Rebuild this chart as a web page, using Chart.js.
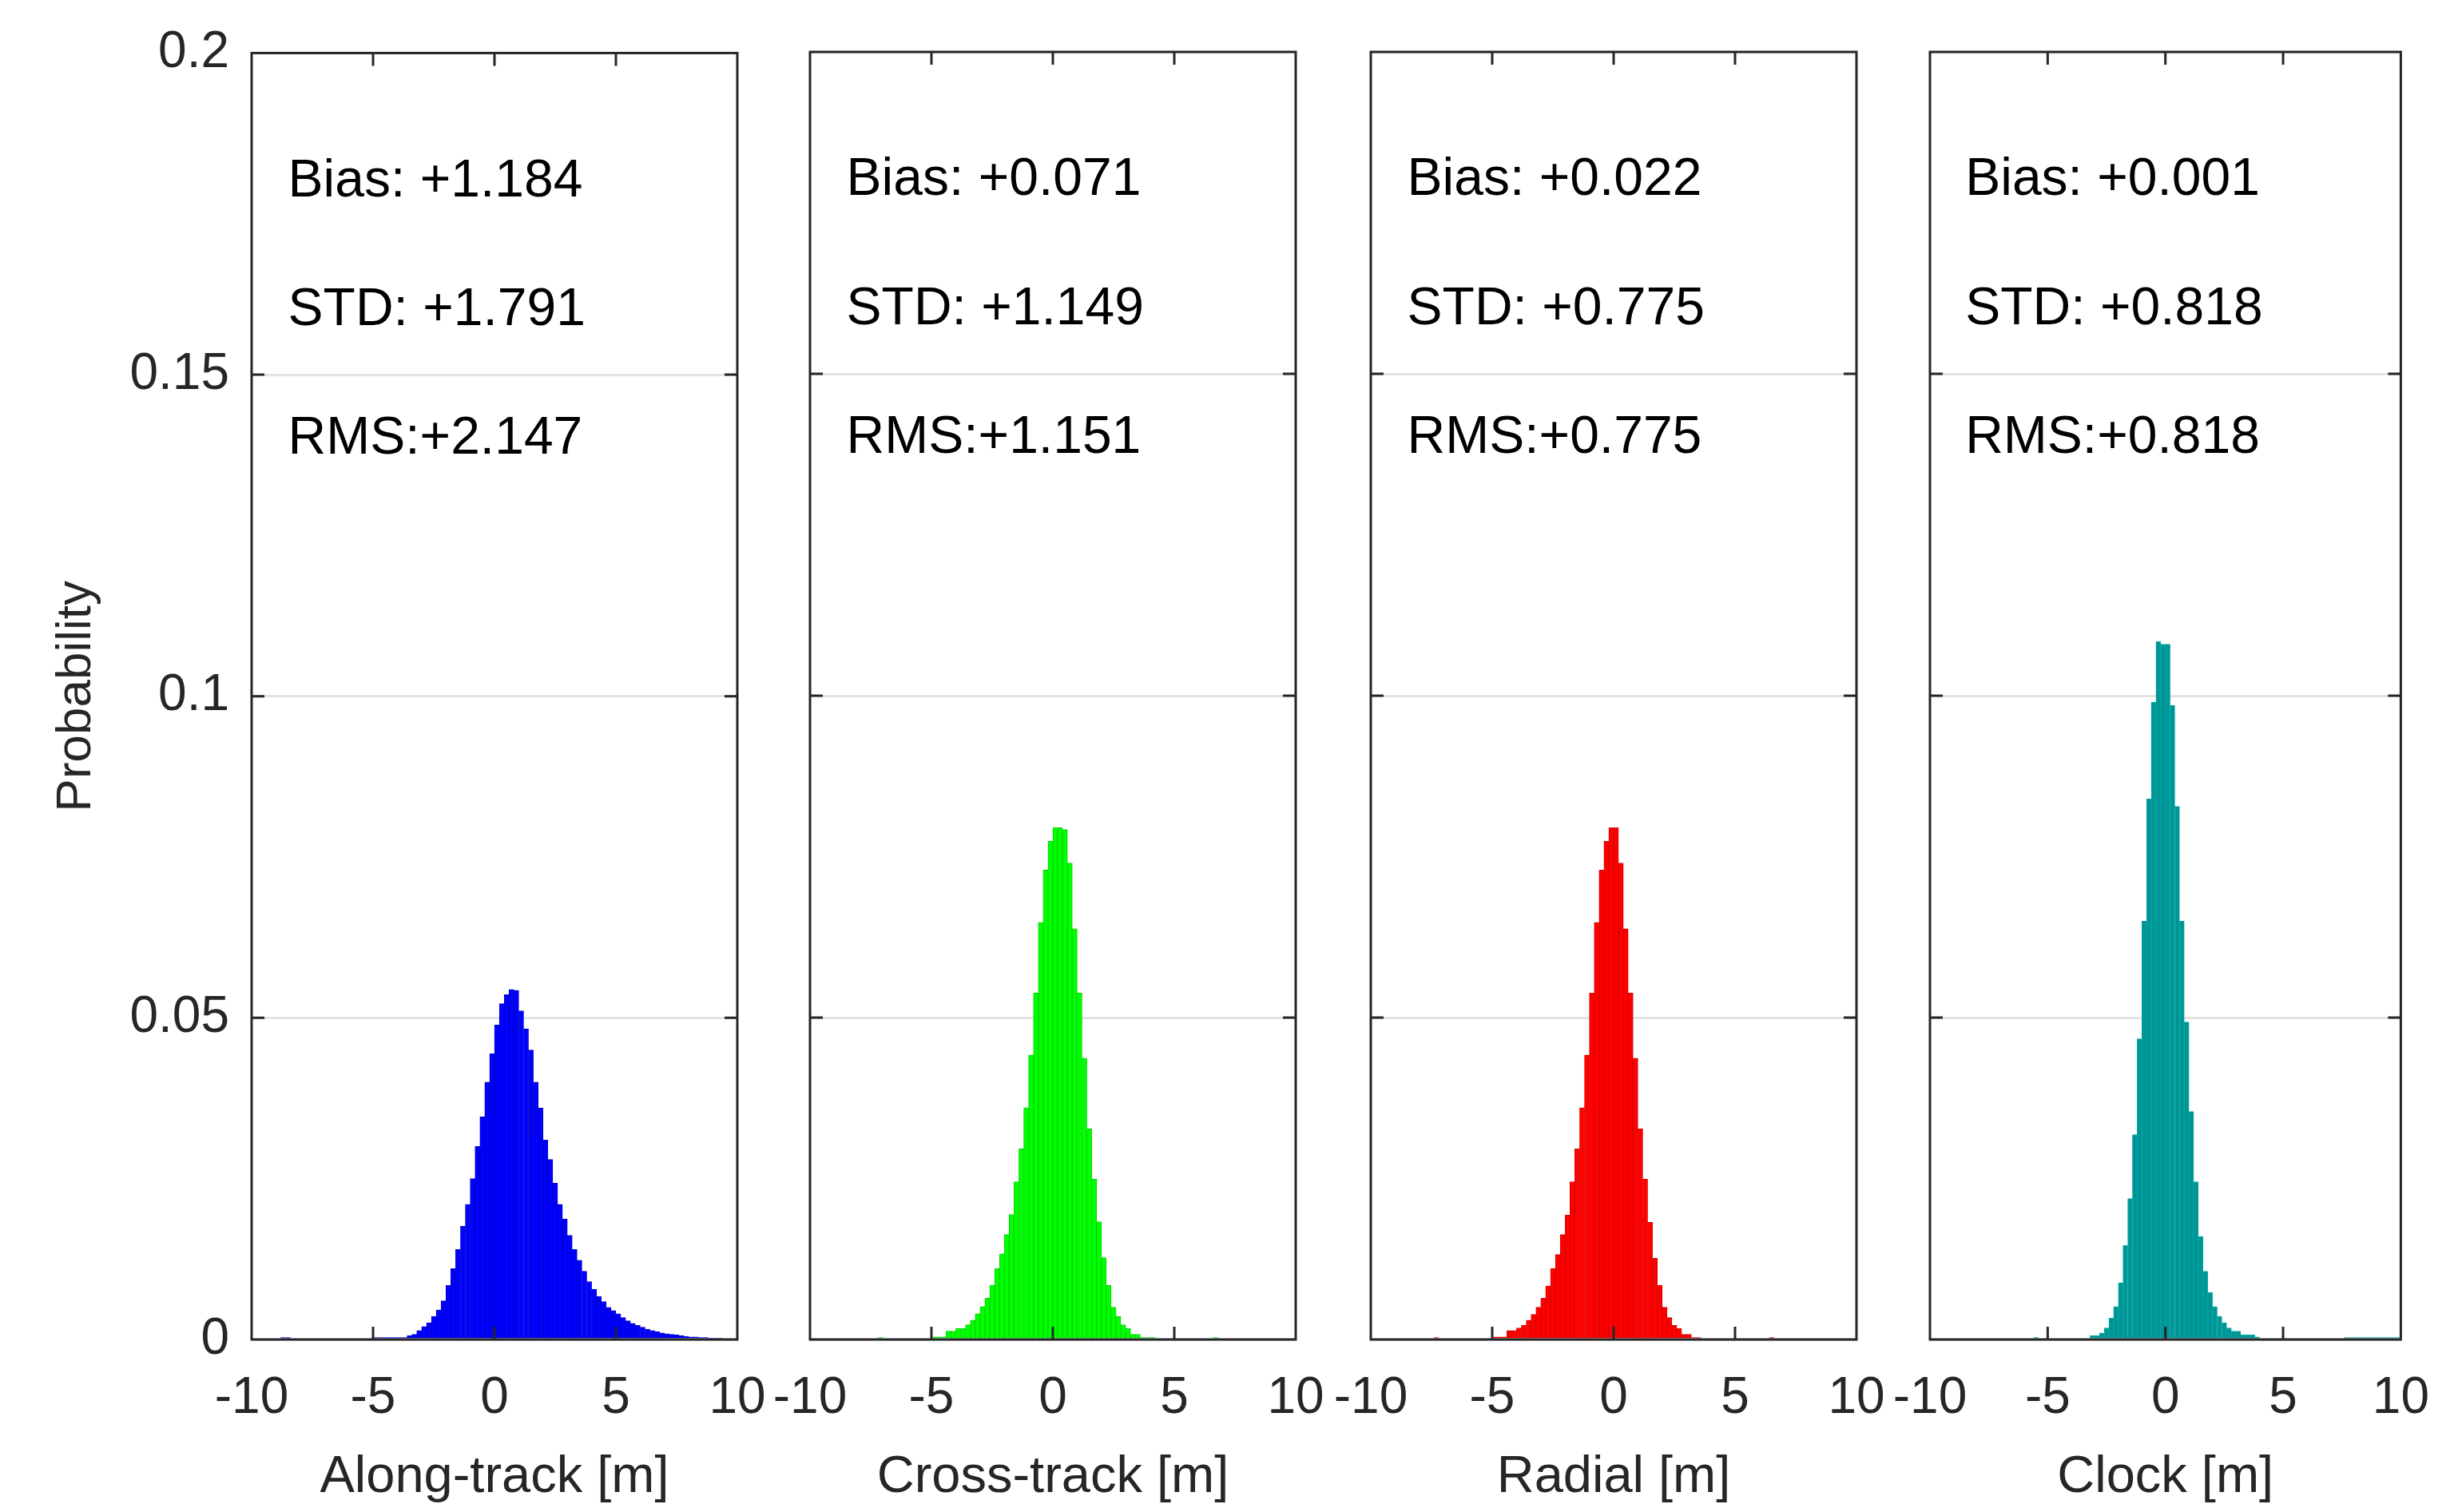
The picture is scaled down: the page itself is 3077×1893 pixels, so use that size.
<!DOCTYPE html>
<html>
<head>
<meta charset="utf-8">
<script src="https://cdn.jsdelivr.net/npm/chart.js@4.4.1/dist/chart.umd.min.js"></script>
<style>
  html, body { margin: 0; padding: 0; background: #fff; }
  #wrap { position: relative; width: 3077px; height: 1893px; }
  #wrap canvas { position: absolute; left: 0; top: 0; }
</style>
</head>
<body>
<div id="wrap">
  <canvas id="c0" width="3077" height="1893"></canvas>
  <canvas id="c1" width="3077" height="1893"></canvas>
  <canvas id="c2" width="3077" height="1893"></canvas>
  <canvas id="c3" width="3077" height="1893"></canvas>
</div>
<script>
// histogram bins are 0.2 m wide; each series lists probabilities from its start bin centre
var binWidth = 0.2;
var xTicks = [-10, -5, 0, 5, 10];
var yTicks = [0, 0.05, 0.1, 0.15, 0.2];

var titles = ["Along-track [m]", "Cross-track [m]", "Radial [m]", "Clock [m]"];
var colors = ["#0000ff", "#00ff00", "#ff0000", "#009494"];
var edges = ["#0000c8", "#00d400", "#d80000", "#00a8a8"];

var biasText = ["Bias: +1.184", "Bias: +0.071", "Bias: +0.022", "Bias: +0.001"];
var stdText = ["STD: +1.791", "STD: +1.149", "STD: +0.775", "STD: +0.818"];
var rmsText = ["RMS:+2.147", "RMS:+1.151", "RMS:+0.775", "RMS:+0.818"];

var alongStart = -4.9;
var alongValues = [0.0003, 0.0003, 0.0003, 0.0003, 0.0003, 0.0003, 0.0003, 0.0006, 0.0008, 0.0014,
  0.002, 0.0026, 0.0036, 0.0046, 0.006, 0.0084, 0.011, 0.014, 0.0176, 0.021,
  0.025, 0.030, 0.0346, 0.040, 0.0444, 0.0489, 0.0522, 0.0536, 0.0544, 0.0543,
  0.0511, 0.0483, 0.045, 0.040, 0.036, 0.031, 0.028, 0.0243, 0.021, 0.0187,
  0.0162, 0.014, 0.0123, 0.0106, 0.009, 0.0078, 0.0067, 0.0059, 0.005, 0.0045,
  0.004, 0.0034, 0.0029, 0.0025, 0.0022, 0.0019, 0.0016, 0.0014, 0.0012, 0.001,
  0.0009, 0.0008, 0.0007, 0.0006, 0.0005, 0.0004, 0.0004, 0.0003, 0.0003, 0.0002,
  0.0002, 0.0001];
var alongOutliers = [[-8.7, 0.0003], [-8.5, 0.0003]];

var crossStart = -4.9;
var crossValues = [0.0004, 0.0004, 0.0004, 0.0013, 0.0013, 0.0017, 0.0017, 0.0023, 0.003, 0.004,
  0.0051, 0.0064, 0.0084, 0.011, 0.0133, 0.0163, 0.0194, 0.0245, 0.0296, 0.036,
  0.0442, 0.0538, 0.0648, 0.0729, 0.0774, 0.0795, 0.0795, 0.0792, 0.074, 0.0638,
  0.0538, 0.0437, 0.0327, 0.0249, 0.0183, 0.0127, 0.0084, 0.005, 0.0036, 0.0023,
  0.0017, 0.0008, 0.0008, 0.0003, 0.0003, 0.0003];
var crossOutliers = [[-7.1, 0.0003], [6.7, 0.0003]];

var radialStart = -4.9;
var radialValues = [0.0004, 0.0004, 0.0004, 0.0014, 0.0014, 0.0018, 0.0022, 0.003, 0.0039, 0.005,
  0.0064, 0.0083, 0.011, 0.0132, 0.0163, 0.0193, 0.0245, 0.0296, 0.036, 0.0442,
  0.0538, 0.0648, 0.0729, 0.0774, 0.0795, 0.0795, 0.074, 0.0638, 0.0538, 0.0437,
  0.0327, 0.0249, 0.0182, 0.0126, 0.0084, 0.005, 0.0034, 0.0022, 0.0017, 0.0008,
  0.0008, 0.0003, 0.0003];
var radialOutliers = [[-7.3, 0.0003], [6.5, 0.0003]];

var clockStart = -3.1;
var clockValues = [0.0006, 0.0006, 0.001, 0.0018, 0.0033, 0.0051, 0.0088, 0.0146, 0.0219, 0.0318,
  0.0467, 0.065, 0.084, 0.099, 0.1084, 0.108, 0.108, 0.0985, 0.0828, 0.065,
  0.0493, 0.0354, 0.0245, 0.016, 0.0106, 0.0073, 0.0051, 0.0036, 0.0026, 0.0018,
  0.0013, 0.0013, 0.0007, 0.0007, 0.0007, 0.0004];
var clockOutliers = [[-5.5, 0.0003], [7.7, 0.0003], [7.9, 0.0003], [8.1, 0.0003], [8.3, 0.0003],
  [8.5, 0.0003], [8.7, 0.0003], [8.9, 0.0003], [9.1, 0.0003], [9.3, 0.0003], [9.5, 0.0003], [9.7, 0.0003], [9.9, 0.0003]];

var starts = [alongStart, crossStart, radialStart, clockStart];
var values = [alongValues, crossValues, radialValues, clockValues];
var outliers = [alongOutliers, crossOutliers, radialOutliers, clockOutliers];

// plot area of each panel in page pixels
var plotLeft = [315, 1014, 1716, 2416];
var plotWidth = 608;
var plotTop = 65;
var plotBottom = 1677;
var yAxisWidth = 260;

var FONT = "'Liberation Sans', Arial, sans-serif";

function buildPoints(k) {
  var pts = [];
  for (var i = 0; i < values[k].length; i++) {
    pts.push({ x: Math.round((starts[k] + i * binWidth) * 10) / 10, y: values[k][i] });
  }
  for (var j = 0; j < outliers[k].length; j++) {
    pts.push({ x: outliers[k][j][0], y: outliers[k][j][1] });
  }
  return pts;
}

var panelDecor = {
  id: "panelDecor",
  afterDatasetsDraw: function (chart) {
    var ctx = chart.ctx;
    var a = chart.chartArea;
    var xs = chart.scales.x, ys = chart.scales.y;
    var k = chart.options.plugins.panelDecor.index;
    ctx.save();
    ctx.strokeStyle = "#262626";
    ctx.lineWidth = 3;
    var t = 16;
    ctx.beginPath();
    for (var i = 1; i < xTicks.length - 1; i++) {
      var px = xs.getPixelForValue(xTicks[i]);
      ctx.moveTo(px, a.bottom); ctx.lineTo(px, a.bottom - t);
      ctx.moveTo(px, a.top); ctx.lineTo(px, a.top + t);
    }
    for (var j = 1; j < yTicks.length - 1; j++) {
      var py = ys.getPixelForValue(yTicks[j]);
      ctx.moveTo(a.left, py); ctx.lineTo(a.left + t, py);
      ctx.moveTo(a.right, py); ctx.lineTo(a.right - t, py);
    }
    ctx.stroke();
    ctx.strokeRect(a.left, a.top, a.right - a.left, a.bottom - a.top);

    ctx.fillStyle = "#000";
    ctx.font = "66px " + FONT;
    ctx.textAlign = "left";
    ctx.textBaseline = "middle";
    var tx = xs.getPixelForValue(-8.5);
    ctx.fillText(biasText[k], tx, ys.getPixelForValue(0.18));
    ctx.fillText(stdText[k], tx, ys.getPixelForValue(0.16));
    ctx.fillText(rmsText[k], tx, ys.getPixelForValue(0.14));
    ctx.restore();
  }
};

for (var k = 0; k < 4; k++) {
  var first = (k === 0);
  new Chart(document.getElementById("c" + k), {
    type: "bar",
    data: {
      datasets: [{
        data: buildPoints(k),
        backgroundColor: colors[k],
        borderColor: edges[k],
        borderWidth: 1,
        barPercentage: 1,
        categoryPercentage: 1
      }]
    },
    options: {
      responsive: false,
      animation: false,
      layout: {
        padding: {
          left: first ? plotLeft[0] - yAxisWidth : plotLeft[k],
          right: 3077 - plotLeft[k] - plotWidth,
          top: plotTop,
          bottom: 0
        }
      },
      plugins: {
        legend: { display: false },
        tooltip: { enabled: false },
        panelDecor: { index: k }
      },
      scales: {
        x: {
          type: "linear",
          offset: false,
          min: -10,
          max: 10,
          afterBuildTicks: function (s) { s.ticks = xTicks.map(function (v) { return { value: v }; }); },
          afterFit: function (s) { s.height = 1893 - plotBottom; },
          grid: { display: false, drawTicks: false },
          border: { display: false },
          ticks: { color: "#262626", font: { family: FONT, size: 64 }, padding: 36, maxRotation: 0 },
          title: { display: true, text: titles[k], color: "#262626", font: { family: FONT, size: 65 }, padding: { top: 0 } }
        },
        y: {
          min: 0,
          max: 0.2,
          afterBuildTicks: function (s) { s.ticks = yTicks.map(function (v) { return { value: v }; }); },
          afterFit: function (s) { s.width = first ? yAxisWidth : 0; },
          grid: { color: "#e3e3e3", lineWidth: 3, drawTicks: false },
          border: { display: false },
          ticks: {
            display: first,
            color: "#262626",
            font: { family: FONT, size: 64 },
            padding: 28,
            callback: function (v) { return String(Math.round(v * 100) / 100); }
          },
          title: { display: first, text: "Probability", color: "#262626", font: { family: FONT, size: 62 }, padding: { bottom: 0 } }
        }
      }
    },
    plugins: [panelDecor]
  });
}
</script>
</body>
</html>
